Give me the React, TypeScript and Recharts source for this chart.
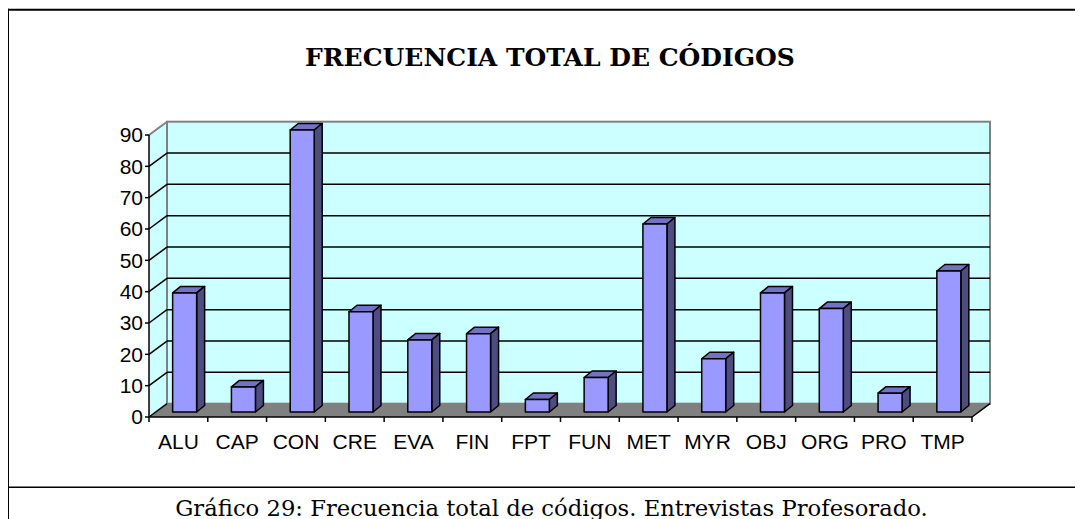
import React from 'react';
import { BarChart, Bar, XAxis, YAxis, ReferenceArea, ReferenceLine } from 'recharts';

const categories = ['ALU', 'CAP', 'CON', 'CRE', 'EVA', 'FIN', 'FPT', 'FUN', 'MET', 'MYR', 'OBJ', 'ORG', 'PRO', 'TMP'];
const frequencies = [38, 8, 90, 32, 23, 25, 4, 11, 60, 17, 38, 33, 6, 45];
const yTicks = [0, 10, 20, 30, 40, 50, 60, 70, 80, 90];
const chartTitle = 'FRECUENCIA TOTAL DE CÓDIGOS';
const caption = 'Gráfico 29: Frecuencia total de códigos. Entrevistas Profesorado.';

const data = categories.map((c, i) => ({ cat: c, value: frequencies[i] }));

const W = 1075;
const H = 470;
const MARGIN = { top: 127, right: 111, bottom: 21, left: 81 };
const WALL_DX = 18;
const WALL_DY = 13.3;
const BAR_OFF_X = 6;
const BAR_OFF_Y = 5;
const BAR_DX = 8;
const BAR_DY = 6.5;
const HALF_BAND = (W - MARGIN.left - 60 - MARGIN.right) / categories.length / 2;
const SANS = '"Liberation Sans", Arial, sans-serif';

const WallShape = (props: any) => {
  const { x, y, width, height } = props;
  const b = y + height;
  return (
    <g>
      <polygon
        points={`${x},${y} ${x + WALL_DX},${y - WALL_DY} ${x + WALL_DX},${b - WALL_DY} ${x},${b}`}
        fill="#CCFFFF"
      />
      <rect x={x + WALL_DX} y={y - WALL_DY} width={width} height={height} fill="#CCFFFF" stroke="#808080" strokeWidth={2} />
      <line x1={x} y1={y} x2={x + WALL_DX} y2={y - WALL_DY} stroke="#808080" strokeWidth={2} />
      <polygon
        points={`${x},${b} ${x + width},${b} ${x + width + WALL_DX},${b - WALL_DY} ${x + WALL_DX},${b - WALL_DY}`}
        fill="#808080"
      />
      <line x1={x + width} y1={b} x2={x + width + WALL_DX} y2={b - WALL_DY} stroke="#000" strokeWidth={1.5} />
    </g>
  );
};

const makeGridShape = (v: number) => (props: any) => {
  const { x1, y1, x2 } = props;
  if (v >= 90) return <g />;
  return (
    <g>
      <line x1={x1} y1={y1} x2={x1 + WALL_DX} y2={y1 - WALL_DY} stroke="#000" strokeWidth={1.5} />
      {v > 0 && (
        <line x1={x1 + WALL_DX} y1={y1 - WALL_DY} x2={x2 + WALL_DX} y2={y1 - WALL_DY} stroke="#000" strokeWidth={1.5} />
      )}
    </g>
  );
};

const Bar3D = (props: any) => {
  const { x, y, width, height } = props;
  if (height == null || width == null) return <g />;
  const fx = x + BAR_OFF_X;
  const fy = y - BAR_OFF_Y;
  const fb = fy + height;
  return (
    <g stroke="#000" strokeWidth={1.5} strokeLinejoin="round">
      <polygon
        points={`${fx},${fy} ${fx + BAR_DX},${fy - BAR_DY} ${fx + width + BAR_DX},${fy - BAR_DY} ${fx + width},${fy}`}
        fill="#7373C6"
      />
      <polygon
        points={`${fx + width},${fy} ${fx + width + BAR_DX},${fy - BAR_DY} ${fx + width + BAR_DX},${fb - BAR_DY} ${fx + width},${fb}`}
        fill="#4D4D80"
      />
      <rect x={fx} y={fy} width={width} height={height} fill="#9999FF" />
    </g>
  );
};

const XTick = (props: any) => {
  const { x, y, payload, index } = props;
  const last = index === categories.length - 1;
  return (
    <g>
      <line x1={x - HALF_BAND} y1={y} x2={x - HALF_BAND} y2={y + 5} stroke="#000" strokeWidth={1.5} />
      {last && <line x1={x + HALF_BAND} y1={y} x2={x + HALF_BAND} y2={y + 5} stroke="#000" strokeWidth={1.5} />}
      <text x={x} y={y + 32} textAnchor="middle" fontFamily={SANS} fontSize={21} fill="#000">
        {payload.value}
      </text>
    </g>
  );
};

export default function App() {
  return (
    <div style={{ position: 'relative', width: W, height: 511 }}>
      <svg width={W} height={511} style={{ position: 'absolute', left: 0, top: 0, overflow: 'visible' }}>
        <line x1={0} y1={1.7} x2={W} y2={1.7} stroke="#000" strokeWidth={2} />
        <line x1={0} y1={0.7} x2={0} y2={520} stroke="#000" strokeWidth={2} />
        <line x1={0} y1={479.3} x2={W} y2={479.3} stroke="#000" strokeWidth={1.6} />
        <text x={542} y={58} textAnchor="middle" fontFamily='"DejaVu Serif", serif' fontWeight="bold" fontSize={25} fill="#000">
          {chartTitle}
        </text>
        <text x={543.5} y={507.5} textAnchor="middle" fontFamily='"DejaVu Serif", serif' fontSize={22.7} fill="#000">
          {caption}
        </text>
      </svg>
      <div style={{ position: 'absolute', left: 0, top: 0 }}>
        <BarChart width={W} height={H} data={data} margin={MARGIN} barCategoryGap="30%">
          <ReferenceArea y1={0} y2={90} shape={WallShape} zIndex={0} ifOverflow="visible" />
          {yTicks.map((v) => (
            <ReferenceLine key={v} y={v} shape={makeGridShape(v)} zIndex={10} />
          ))}
          <Bar dataKey="value" shape={Bar3D} isAnimationActive={false} />
          <XAxis
            dataKey="cat"
            axisLine={{ stroke: '#000', strokeWidth: 1.5 }}
            tickLine={false}
            tickSize={0}
            tickMargin={0}
            height={40}
            interval={0}
            tick={XTick}
          />
          <YAxis
            domain={[0, 90]}
            ticks={yTicks}
            interval={0}
            width={60}
            axisLine={{ stroke: '#000', strokeWidth: 1.5 }}
            tickLine={{ stroke: '#000', strokeWidth: 1.5 }}
            tickSize={4}
            tickMargin={2}
            tick={{ fontSize: 21, fill: '#000', fontFamily: SANS }}
          />
        </BarChart>
      </div>
    </div>
  );
}
